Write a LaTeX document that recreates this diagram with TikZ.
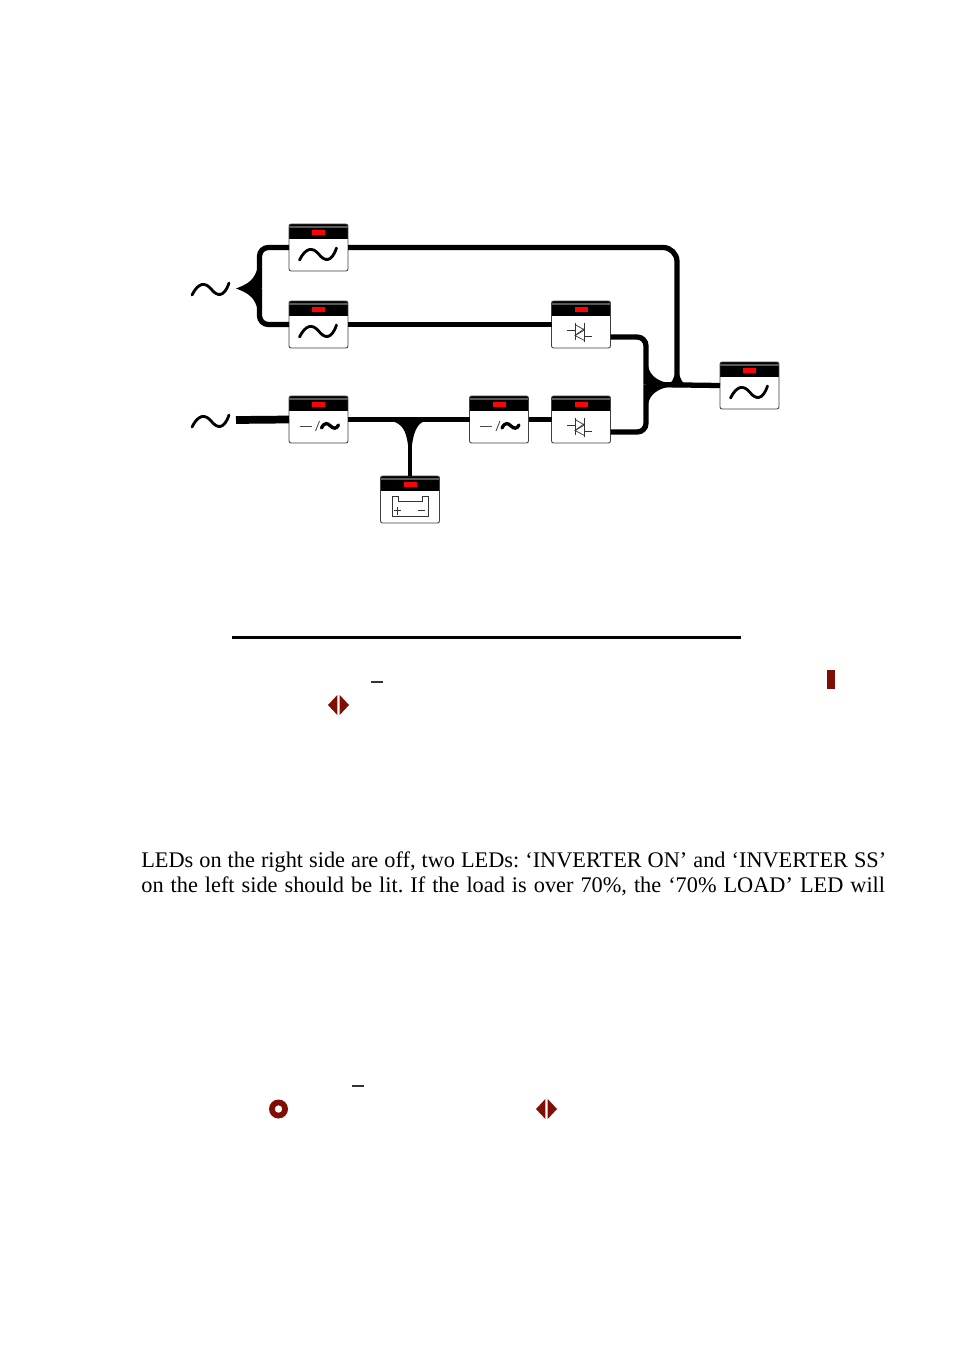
\documentclass[tikz,border=0pt]{standalone}
\usepackage{fontspec}
\setmainfont{Liberation Serif}

\definecolor{ledred}{RGB}{250,5,5}
\definecolor{iconred}{RGB}{128,14,6}

\tikzset{
  unitbox/.style={draw=black!75, line width=0.5pt, fill=white, rounded corners=1.2pt,
    minimum width=59*0.02cm, minimum height=47*0.02cm, inner sep=0pt, outer sep=0pt,
    path picture={
      \fill [black, sharp corners] (path picture bounding box.north west) rectangle ++(59,15);
      \fill [black!65, sharp corners] (path picture bounding box.north west) ++(0,2) rectangle ++(59,2);
      \fill [ledred, sharp corners] (path picture bounding box.north west) ++(23,6) rectangle ++(13,5);
    }},
  wire/.style={line width=3pt, rounded corners=5pt},
  thinwire/.style={line width=2.3pt},
  glyph/.style={line width=1.6pt, line cap=round},
  symbol/.style={line width=0.4pt, black!80},
  sine/.pic={
    \draw [glyph] (-19,6) .. controls (-13,-6) and (-6,-8) .. (1,1) .. controls (6,7) and (13,9) .. (18,-6);
  },
  converter/.pic={
    \draw [line width=0.5pt, black!70] (-19,6) -- (-7,6);
    \draw [line width=0.5pt, black!70] (-3,11) -- (1,1);
    \draw [line width=1.9pt, line cap=round] (3,8) .. controls (6,2) and (9,3) .. (12,6) .. controls (15,9) and (18,9) .. (20,5);
  },
  thyristor/.pic={
    \draw [symbol, line width=0.5pt] (-14,5.5) -- (-6,5.5);
    \draw [symbol, line width=0.5pt] (3.5,11.5) -- (11,11.5);
    \draw [symbol] (-6,-1.5) -- (-6,15.5);
    \draw [symbol] (3.5,-1.5) -- (3.5,17.5);
    \draw [symbol] (-6,0) -- (3.5,5.5) -- (-6,11) ;
    \draw [symbol] (3.5,4) -- (-6,11) -- (3.5,16);
  },
  battery/.pic={
    \draw [symbol, line width=0.5pt] (-18,-3) -- (-12,-3) -- (-12,2) -- (12,2) -- (12,-3) -- (18,-3) -- (18,17) -- (-18,17) -- cycle;
    \draw [symbol] (-16,11) -- (-9,11);
    \draw [symbol] (-12.5,7) -- (-12.5,15);
    \draw [symbol] (8,11) -- (15,11);
  },
  splitdiamond/.pic={
    \fill [iconred] (-10.5,0) -- (-1.2,-10) -- (-1.2,10) -- cycle;
    \fill [iconred] (10.5,0) -- (1.2,-10) -- (1.2,10) -- cycle;
  },
}

\begin{document}
\begin{tikzpicture}[x=0.02cm, y=-0.02cm]

\useasboundingbox (0,0) rectangle (954,1349);

\coordinate (Src) at (236,288.5);
\coordinate (Fork) at (259.5,288.5);
\coordinate (Rail) at (646,384.5);
\coordinate (Merge) at (677,384.5);
\coordinate (Feed) at (236,420);
\coordinate (Tee) at (410,420);

\node [unitbox] (BypassIn) at (318.5,247.5) {};
\node [unitbox] (RectA) at (318.5,324.5) {};
\node [unitbox] (ThyA) at (581,324.5) {};
\node [unitbox] (RectB) at (318.5,419.5) {};
\node [unitbox] (Inv) at (499,419.5) {};
\node [unitbox] (ThyB) at (581,419.5) {};
\node [unitbox] (Batt) at (410,499.5) {};
\node [unitbox] (Load) at (749.5,385.5) {};

\pic at (211,289) {sine};
\pic at (211,421) {sine};
\pic at (318.5,254) {sine};
\pic at (318.5,331) {sine};
\pic at (749.5,392) {sine};
\pic at (318.5,420) {converter};
\pic at (499,420) {converter};
\pic at (581,324.5) {thyristor};
\pic at (581,419.5) {thyristor};
\pic at (410,499.5) {battery};

% wires
\draw [wire, rounded corners=8pt] (BypassIn.east) -| (Merge);
\draw [wire] (BypassIn.west) -| (Fork);
\draw [wire] (RectA.west) -| (Fork);
\draw [wire] (RectA.east) -- (ThyA.west);
\draw [wire] (ThyA.-23) -| (Rail);
\draw [wire] (ThyB.-23) -| (Rail);
\draw [wire] (Rail) -- (Load.west);
\draw [wire, line width=4.4pt] (Feed) -- (RectB.west);
\draw [wire] (RectB.east) -- (Inv.west);
\draw [thinwire] (Inv.east) -- (ThyB.west);
\draw [thinwire] (Tee) -- (Batt.north);

% flares
\fill (Src) .. controls (248,284) and (255,280) .. (258,266) -- (261,266) -- (261,311) -- (258,311) .. controls (255,297) and (248,293) .. (Src);
\fill (392,421) .. controls (402,424) and (406,430) .. (408,445) -- (412,445) .. controls (414,430) and (418,424) .. (424,421) -- cycle;
\fill (648,366) .. controls (650,376) and (658,381) .. (668,383) -- (668,387) .. controls (658,389) and (650,394) .. (648,404) -- cycle;
\fill (666,387) .. controls (671,384) and (675,378) .. (675.5,370) -- (678.5,370) .. controls (679,378) and (683,384) .. (688,387) -- cycle;

% rule and marks
\draw [line width=1.2pt] (232,637.5) -- (741,637.5);
\draw [line width=0.6pt, black!80] (371,682) -- (383,682);
\fill [iconred] (827,670) rectangle (835,689);
\pic at (338.5,705) {splitdiamond};
\draw [line width=0.6pt, black!80] (352,1086) -- (364,1086);
\fill [iconred, even odd rule] (278.5,1109) circle (9.5) (278.5,1109) circle (3.8);
\pic at (546.5,1109) {splitdiamond};

% text
\node [anchor=base west, inner sep=0pt] (LineA) at (141,867) {\fontsize{12.7}{14}\selectfont\frenchspacing\hbox to 424pt{LEDs on the right side are off, two LEDs: ‘INVERTER ON’ and ‘INVERTER SS’}};
\node [anchor=base west, inner sep=0pt] (LineB) at (141,892) {\fontsize{12.7}{14}\selectfont\frenchspacing\hbox to 423.3pt{on the left side should be lit. If the load is over 70\%, the ‘70\% LOAD’ LED will}};

\end{tikzpicture}
\end{document}
